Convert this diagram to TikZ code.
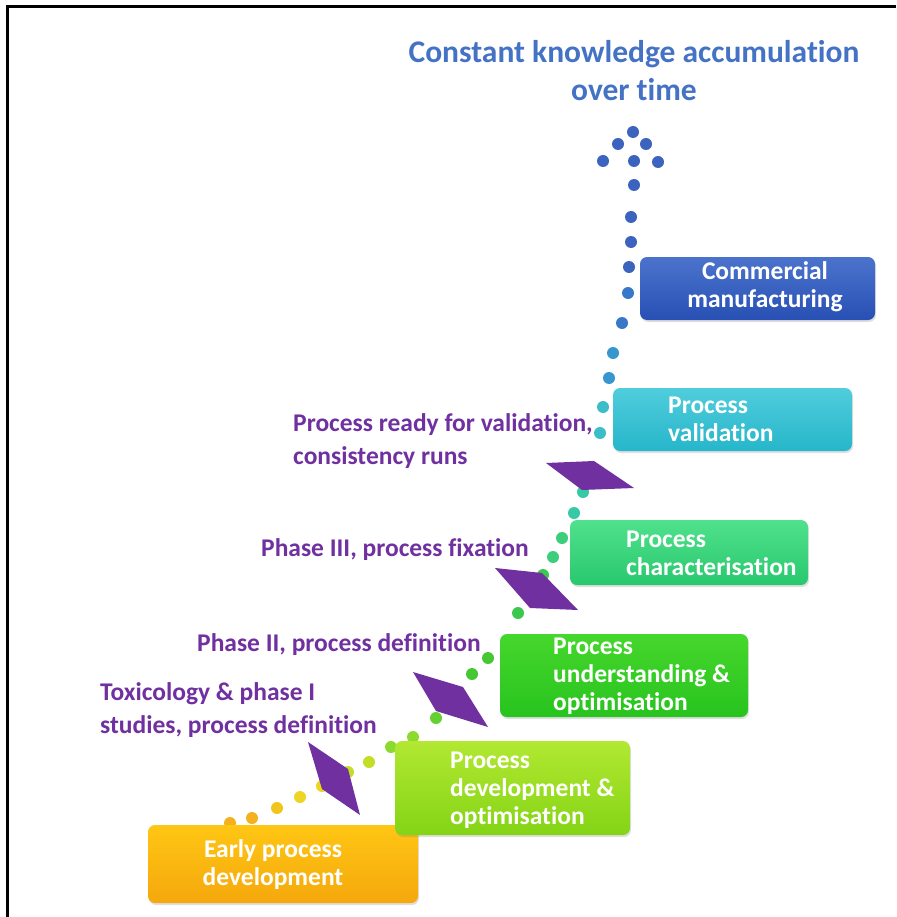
\documentclass[tikz,border=0pt]{standalone}
\usepackage{fontspec}
\setmainfont[Ligatures=NoCommon]{Carlito}
\usetikzlibrary{shadows}

\definecolor{titleblue}{RGB}{68,114,196}
\definecolor{kpurple}{RGB}{112,48,160}
\definecolor{c1}{RGB}{245,176,30}
\definecolor{c2}{RGB}{242,196,30}
\definecolor{c3}{RGB}{236,214,35}
\definecolor{c4}{RGB}{196,222,40}
\definecolor{c5}{RGB}{140,218,45}
\definecolor{c6}{RGB}{100,208,50}
\definecolor{c7}{RGB}{70,200,50}
\definecolor{c8}{RGB}{60,200,80}
\definecolor{c9}{RGB}{60,205,125}
\definecolor{c10}{RGB}{55,200,165}
\definecolor{c11}{RGB}{60,190,200}
\definecolor{c12}{RGB}{55,150,205}
\definecolor{c13}{RGB}{55,120,200}
\definecolor{c14}{RGB}{60,100,190}

\begin{document}
\begin{tikzpicture}[x=1pt,y=-1pt,
    box/.style={rounded corners=7pt, inner sep=0pt,
      drop shadow={opacity=0.25, shadow xshift=1pt, shadow yshift=-2pt}},
    boxtxt/.style={text=white, font=\bfseries\fontsize{25.5}{28}\selectfont,
      align=left, inner sep=0pt, anchor=west},
    lab/.style={text=kpurple, font=\bfseries\fontsize{25.5}{33}\selectfont,
      align=left, inner sep=0pt, anchor=west},
    dot/.style={circle, inner sep=0pt, minimum size=12pt}]
    \useasboundingbox (0,0) rectangle (896,917);
    \draw[line width=3pt] (7,917) -- (7,7) -- (896,7);

    \node[text=titleblue, font=\bfseries\fontsize{31.5}{38}\selectfont, align=center]
      (title) at (634,71) {Constant knowledge accumulation\\over time};

    \foreach [count=\i] \px/\py/\c in {230/823/c1, 252/818/c1, 277/808/c2,
        300/797/c3, 322/786/c3, 348/772/c4, 369/762/c4, 391/747/c5,
        413/737/c5, 436/718/c6, 455/697/c6, 472/674/c7, 488/658/c7,
        518/613/c8, 543/575/c8, 553/557/c9, 562/538/c9, 574/513/c10,
        583/492/c10, 592/470/c11, 600/433/c11, 603/407/c11, 609/378/c12,
        613/353/c12, 622/323/c13, 628/293/c13, 629/267/c14, 631/242/c14,
        631/217/c14, 634/185/c14, 633/132/c14, 618/144/c14, 646/144/c14,
        603/161/c14, 634/161/c14, 658/162/c14}
      \node[dot, fill=\c] (d\i) at (\px,\py) {};

    \node[box, minimum width=270pt, minimum height=78pt,
      top color={rgb,255:red,255;green,198;blue,20},
      bottom color={rgb,255:red,245;green,168;blue,12}] (early) at (283,864) {};
    \node[box, minimum width=235pt, minimum height=94pt,
      top color={rgb,255:red,178;green,232;blue,50},
      bottom color={rgb,255:red,132;green,212;blue,22}] (dev) at (512.5,788) {};
    \node[box, minimum width=248pt, minimum height=83pt,
      top color={rgb,255:red,70;green,215;blue,45},
      bottom color={rgb,255:red,40;green,195;blue,30}] (und) at (624,675.5) {};
    \node[box, minimum width=238pt, minimum height=65pt,
      top color={rgb,255:red,80;green,225;blue,140},
      bottom color={rgb,255:red,40;green,200;blue,110}] (char) at (689,552.5) {};
    \node[box, minimum width=239pt, minimum height=63pt,
      top color={rgb,255:red,80;green,205;blue,220},
      bottom color={rgb,255:red,38;green,182;blue,202}] (val) at (732.5,419.5) {};
    \node[box, minimum width=235pt, minimum height=63pt,
      top color={rgb,255:red,75;green,115;blue,205},
      bottom color={rgb,255:red,40;green,80;blue,180}] (comm) at (757.5,288.5) {};

    \node[boxtxt, anchor=center, align=center] (early-t) at (273,865) {Early process\\development};
    \node[boxtxt] (dev-t) at (450,790) {Process\\development \&\\optimisation};
    \node[boxtxt] (und-t) at (553,676) {Process\\understanding \&\\optimisation};
    \node[boxtxt] (char-t) at (626,553) {Process\\characterisation};
    \node[boxtxt] (val-t) at (668,419) {Process\\validation};
    \node[boxtxt, anchor=center, align=center] (comm-t) at (765,287) {Commercial\\manufacturing};

    \fill[kpurple] (308,742) -- (348,769) -- (360,815) -- (322,789) -- cycle;
    \fill[kpurple] (413,672) -- (463,687) -- (488,727) -- (436,711) -- cycle;
    \fill[kpurple] (495,568) -- (542,573) -- (578,610) -- (530,608) -- cycle;
    \fill[kpurple] (546,463) -- (594,461) -- (634,488) -- (582,490) -- cycle;

    \node[lab] (tox) at (100,710) {Toxicology \& phase I\\studies, process definition};
    \node[lab] (ph2) at (197,645) {Phase II, process definition};
    \node[lab] (ph3) at (261,550) {Phase III, process fixation};
    \node[lab] (ready) at (293,441) {Process ready for validation,\\consistency runs};
\end{tikzpicture}
\end{document}
